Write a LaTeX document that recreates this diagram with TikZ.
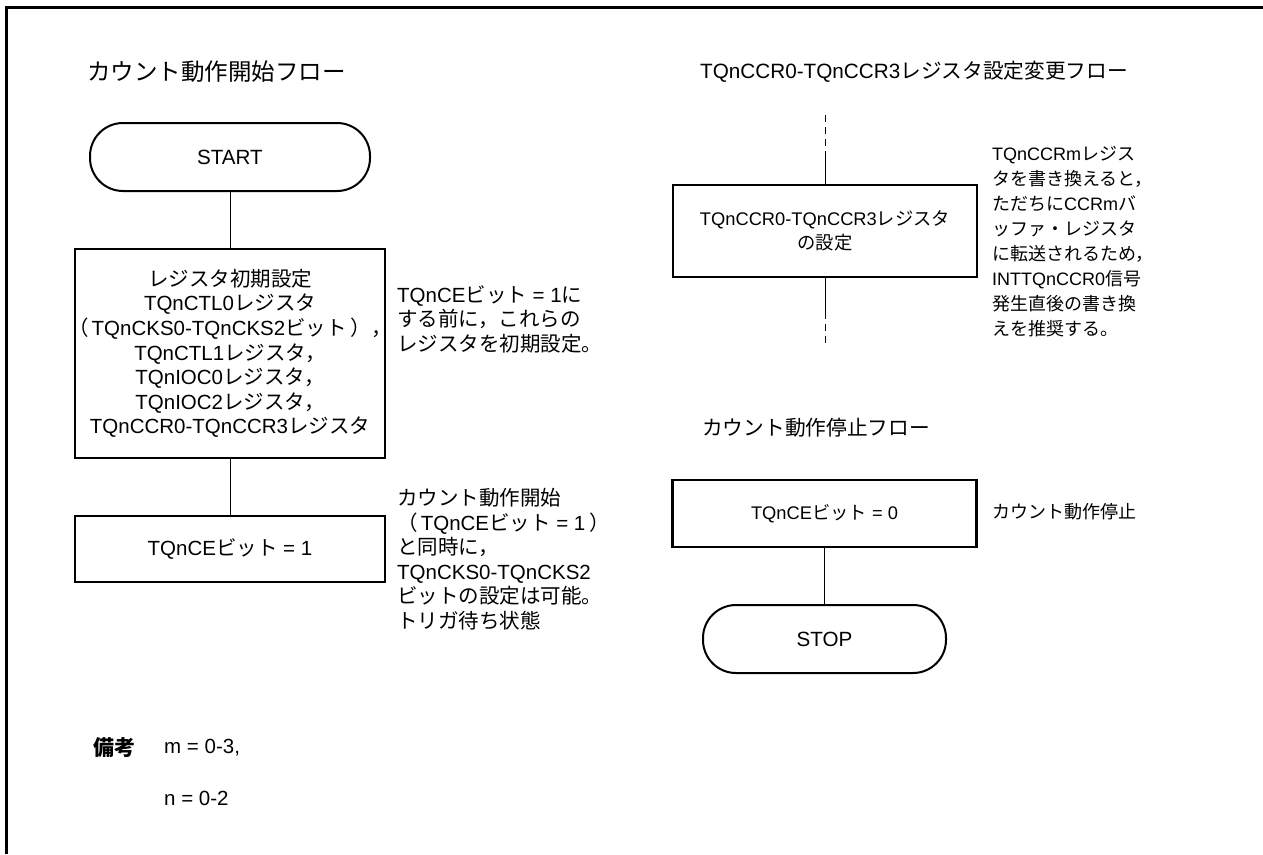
\documentclass[tikz,border=0pt]{standalone}
\usepackage{fontspec}
\setmainfont{Liberation Sans}
\newfontfamily\jp{Noto Sans CJK JP}
\newcommand\J[1]{{\jp #1}}
\begin{document}
\begin{tikzpicture}[x=1pt,y=-1pt,
  boxnode/.style={draw, line width=2.4pt, align=center, inner sep=0pt, minimum width=#1},
  leftfont/.style={font=\fontsize{20.5}{24.6}\selectfont},
  rightfont/.style={font=\fontsize{18.3}{24.6}\selectfont},
  termnode/.style={draw, line width=2pt, rounded corners=33pt, inner sep=0pt,
    minimum height=68pt, font=\fontsize{20.6}{24}\selectfont},
  notenode/.style={anchor=north west, align=left, inner sep=0pt},
  titlenode/.style={anchor=west, inner sep=0pt, font=\fontsize{20.7}{24}\selectfont},
  link/.style={line width=1pt},
  dashlink/.style={line width=1pt, dash pattern=on 7pt off 5pt}]
\useasboundingbox (0,0) rectangle (1263,854);
\draw[line width=2.6pt] (6.5,854) -- (6.5,7.5) -- (1263,7.5);

% left flow
\node[titlenode, font=\fontsize{23.5}{26}\selectfont] (t1) at (87,72) {\J{カウント動作開始フロー}};
\node[termnode, minimum width=280pt] (start) at (230,157) {START};
\node[boxnode=310pt, leftfont, minimum height=209pt] (init) at (230,353.5)
  {\J{レジスタ初期設定}\\
   TQnCTL0\J{レジスタ}\\
   \makebox[0pt][c]{\J{（}\hspace{0.15em}TQnCKS0-TQnCKS2\J{ビット}\hspace{0.2em}\J{），}}\\
   TQnCTL1\J{レジスタ，}\\
   TQnIOC0\J{レジスタ，}\\
   TQnIOC2\J{レジスタ，}\\
   TQnCCR0-TQnCCR3\J{レジスタ}};
\node[boxnode=310pt, leftfont, minimum height=66pt] (ce1) at (230,549) {TQnCE\J{ビット} = 1};
\draw[link] (start) -- (init);
\draw[link] (init) -- (ce1);
\node[notenode, leftfont] (n1) at (397,285)
  {TQnCE\J{ビット} = 1\J{に}\\
   \J{する前に，これらの}\\
   \J{レジスタを初期設定。}};
\node[notenode, leftfont] (n2) at (397,488)
  {\J{カウント動作開始}\\
   \J{（}\hspace{0.15em}TQnCE\J{ビット} = 1\hspace{0.2em}\J{）}\\
   \J{と同時に，}\\
   TQnCKS0-TQnCKS2\\
   \J{ビットの設定は可能。}\\
   \J{トリガ待ち状態}};

% right upper flow
\node[titlenode] (t2) at (700,72) {TQnCCR0-TQnCCR3\J{レジスタ設定変更フロー}};
\node[boxnode=304pt, rightfont, minimum height=92pt] (ccr) at (825,231)
  {TQnCCR0-TQnCCR3\J{レジスタ}\\\J{の設定}};
\coordinate (d1) at (825,115);
\coordinate (d2) at (825,151);
\coordinate (d3) at (825,312);
\coordinate (d4) at (825,344);
\draw[dashlink] (d1) -- (d2);
\draw[link] (d2) -- (ccr);
\draw[link] (ccr) -- (d3);
\draw[dashlink] (d3) -- (d4);
\node[notenode, font=\fontsize{18}{25}\selectfont] (n3) at (992,146)
  {TQnCCRm\J{レジス}\\
   \J{タを書き換えると，}\\
   \J{ただちに}CCRm\J{バ}\\
   \J{ッファ・レジスタ}\\
   \J{に転送されるため，}\\
   INTTQnCCR0\J{信号}\\
   \J{発生直後の書き換}\\
   \J{えを推奨する。}};

% right lower flow
\node[titlenode] (t3) at (702,428) {\J{カウント動作停止フロー}};
\node[boxnode=304pt, rightfont, minimum height=67pt] (ce0) at (824.5,513.5) {TQnCE\J{ビット} = 0};
\node[termnode, minimum width=243pt] (stop) at (824.5,639) {STOP};
\draw[link] (ce0) -- (stop);
\node[titlenode, font=\fontsize{18}{24}\selectfont] (n4) at (992,512) {\J{カウント動作停止}};

% remarks
\node[titlenode, font=\fontsize{21}{24}\selectfont\bfseries] (rk) at (93,748) {\J{備考}};
\node[titlenode, font=\fontsize{20.5}{24}\selectfont] (rm) at (164,748) {m = 0-3,};
\node[titlenode, font=\fontsize{20.5}{24}\selectfont] (rn) at (164,798) {n = 0-2};
\end{tikzpicture}
\end{document}
